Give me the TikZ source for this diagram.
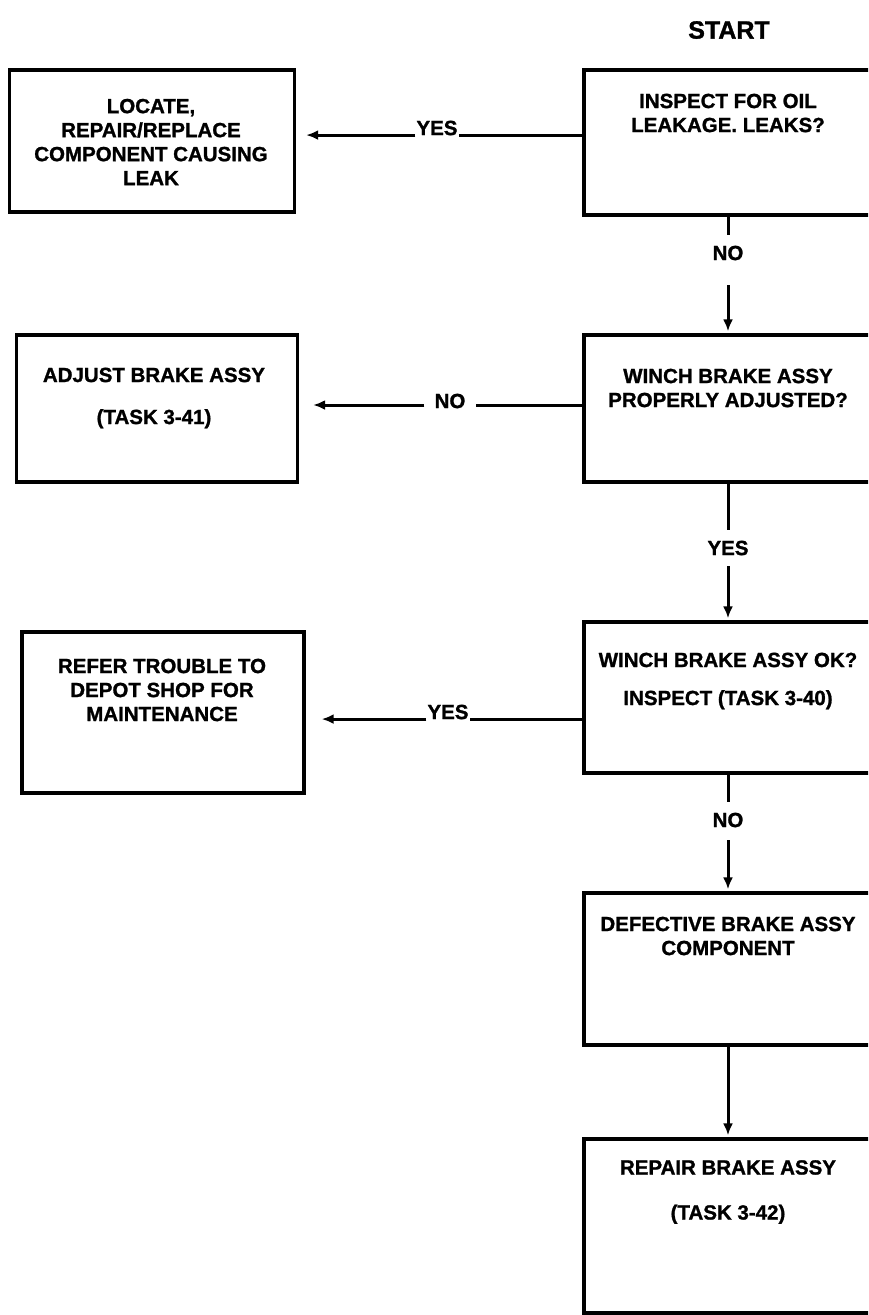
\documentclass[tikz,border=0pt]{standalone}
\usepackage{fontspec}
\setmainfont{Liberation Sans}[BoldFeatures={FakeBold=1.2}]
\usetikzlibrary{arrows.meta}
\begin{document}
\begin{tikzpicture}[x=1pt,y=-1pt,
  box/.style={draw,line width=3.4pt,inner sep=0pt},
  txt/.style={font=\bfseries\fontsize{20.5}{24}\selectfont,align=center,inner sep=0pt},
  conn/.style={line width=3pt},
  arr/.style={conn,-{Latex[length=12pt,width=10pt]},shorten >=2pt},
  lbl/.style={font=\bfseries\fontsize{20.5}{22}\selectfont,inner sep=1pt,fill=white}]
\useasboundingbox (0,0) rectangle (868,1315);
\clip (0,0) rectangle (868,1315);
% start
\node[font=\bfseries\fontsize{25}{27}\selectfont,inner sep=0pt] (start) at (729,30) {START};
% right column boxes (right edge lies beyond the picture)
\node[box,minimum width=300,minimum height=145] (B) at (734,142.5) {};
\node[box,minimum width=300,minimum height=147] (C) at (734,408.5) {};
\node[box,minimum width=300,minimum height=151] (D) at (734,697.5) {};
\node[box,minimum width=300,minimum height=152] (E) at (734,969) {};
\node[box,minimum width=300,minimum height=174] (F) at (734,1226) {};
% left column boxes
\node[box,minimum width=285,minimum height=142] (A) at (152,141) {};
\node[box,minimum width=281,minimum height=147] (G) at (157,408.5) {};
\node[box,minimum width=282,minimum height=161] (H) at (163,712.5) {};
% texts
\node[txt] (At) at (151,142) {LOCATE,\\REPAIR/REPLACE\\COMPONENT CAUSING\\LEAK};
\node[txt] (Bt) at (728,113) {INSPECT FOR OIL\\LEAKAGE. LEAKS?};
\node[txt] (Ct) at (728,388) {WINCH BRAKE ASSY\\PROPERLY ADJUSTED?};
\node[txt] (Dt) at (728,681) {WINCH BRAKE ASSY OK?\\[14pt]INSPECT (TASK 3-40)};
\node[txt] (Et) at (728,936) {DEFECTIVE BRAKE ASSY\\COMPONENT};
\node[txt] (Ft) at (728,1192) {REPAIR BRAKE ASSY\\[21pt](TASK 3-42)};
\node[txt] (Gt) at (154,398) {ADJUST BRAKE ASSY\\[18pt](TASK 3-41)};
\node[txt] (Ht) at (162,690) {REFER TROUBLE TO\\DEPOT SHOP FOR\\MAINTENANCE};
% horizontal connectors
\node[lbl] (y1) at (437,128) {YES};
\draw[conn] (B.west |- y1.base) -- (y1.base east);
\draw[arr] (y1.base west) -- ([xshift=8pt]A.east |- y1.base);
\node[lbl,inner xsep=10pt] (n2) at (450,401) {NO};
\draw[conn] (C.west |- 0,405) -- (n2.east |- 0,405);
\draw[arr] (n2.west |- 0,405) -- ([xshift=12pt]G.east |- 0,405);
\node[lbl] (y3) at (448,712) {YES};
\draw[conn] (D.west |- y3.base) -- (y3.base east);
\draw[arr] (y3.base west) -- ([xshift=14pt]H.east |- y3.base);
% vertical connectors
\node[lbl] (n1) at (728,253) {NO};
\draw[conn] (n1 |- B.south) -- ([yshift=10pt]n1.north);
\draw[arr] ([yshift=-24pt]n1.south) -- (n1 |- C.north);
\node[lbl] (y2) at (728,548) {YES};
\draw[conn] (y2 |- C.south) -- ([yshift=10pt]y2.north);
\draw[arr] ([yshift=-10pt]y2.south) -- (y2 |- D.north);
\node[lbl] (n3) at (728,820) {NO};
\draw[conn] (n3 |- D.south) -- ([yshift=10pt]n3.north);
\draw[arr] ([yshift=-12pt]n3.south) -- (n3 |- E.north);
\draw[arr] (E.south -| n3) -- (F.north -| n3);
\end{tikzpicture}
\end{document}
